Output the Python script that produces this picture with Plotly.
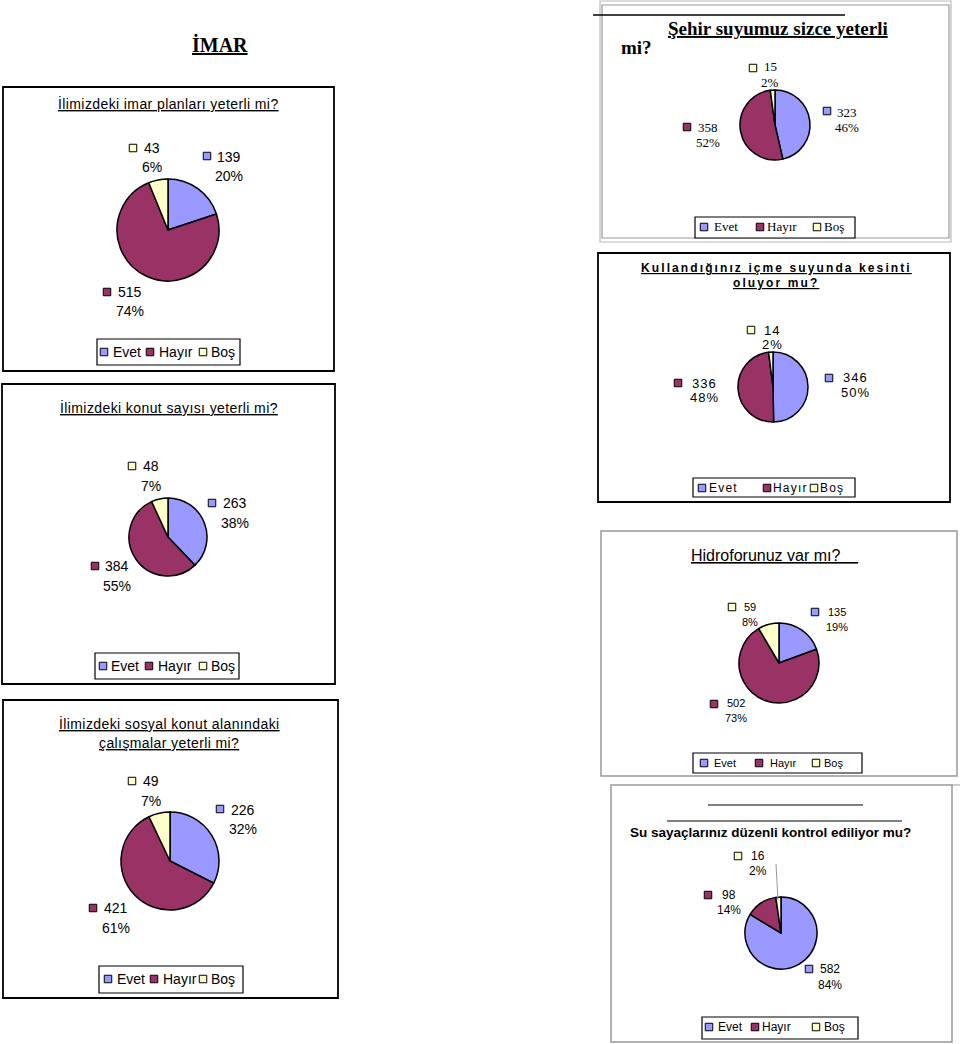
import plotly.graph_objects as go

W, H = 960, 1044

# ---------------- data ----------------
categories = ["Evet", "Hayır", "Boş"]

imar_values = [139, 515, 43]
imar_pct = ["20%", "74%", "6%"]

konut_values = [263, 384, 48]
konut_pct = ["38%", "55%", "7%"]

sosyal_values = [226, 421, 49]
sosyal_pct = ["32%", "61%", "7%"]

su_values = [323, 358, 15]
su_pct = ["46%", "52%", "2%"]

kesinti_values = [346, 336, 14]
kesinti_pct = ["50%", "48%", "2%"]

hidrofor_values = [135, 502, 59]
hidrofor_pct = ["19%", "73%", "8%"]

sayac_values = [582, 98, 16]
sayac_pct = ["84%", "14%", "2%"]

# ---------------- styles ----------------
colors = ["#9999FF", "#993366", "#FFFFCC"]
SANS = "Liberation Sans, Arial, sans-serif"
SERIF = "Liberation Serif, Times New Roman, serif"


def px(x):
    return x / W


def py(y):
    return 1 - y / H


shapes = []
annotations = []


def rect(x0, y0, x1, y1, color="black", width=1.5, fill="rgba(0,0,0,0)", layer="below"):
    shapes.append(dict(type="rect", xref="paper", yref="paper",
                       x0=px(x0), x1=px(x1), y0=py(y1), y1=py(y0),
                       line=dict(color=color, width=width), fillcolor=fill, layer=layer))


def line(x0, y0, x1, y1, color="black", width=1):
    shapes.append(dict(type="line", xref="paper", yref="paper",
                       x0=px(x0), x1=px(x1), y0=py(y0), y1=py(y1),
                       line=dict(color=color, width=width), layer="above"))


def text(x, y, s, font, xanchor="center"):
    annotations.append(dict(x=px(x), y=py(y), xref="paper", yref="paper", text=s,
                            showarrow=False, xanchor=xanchor, yanchor="middle",
                            font=font, borderpad=0))


def square(cx, cy, color, size=7.5):
    h = size / 2
    rect(cx - h, cy - h, cx + h, cy + h, color="black", width=1, fill=color, layer="above")


def spaced(s, sp):
    if not sp:
        return s
    return '<span style="letter-spacing:%spx">%s</span>' % (sp, s)


charts = [
    dict(name="imar", values=imar_values, pct=imar_pct,
         boxes=[((3, 87, 334, 371), "black", 1.8)],
         titles=[("İlimizdeki imar planları yeterli mi?", 168, 103)],
         title_font=dict(family=SANS, size=14, color="black"), title_sp=0.4, title_u=True,
         center=(168, 230), r=51,
         sq=[(207, 156), (107, 292), (133, 148)],
         txt=[(229, 157, 176), (130, 292, 311), (152, 148, 167)],
         label_font=dict(family=SANS, size=14, color="black"), label_sp=0,
         legend_box=(97, 339, 240, 365), legend_y=352,
         legend_sq=[104, 150, 203], legend_txt=[112, 158, 210],
         legend_font=dict(family=SANS, size=14, color="black"), legend_sp=0),
    dict(name="konut", values=konut_values, pct=konut_pct,
         boxes=[((2, 384, 335, 684), "black", 1.8)],
         titles=[("İlimizdeki konut sayısı yeterli mi?", 169, 407)],
         title_font=dict(family=SANS, size=14, color="black"), title_sp=0.4, title_u=True,
         center=(168, 537), r=39,
         sq=[(212, 503), (95, 566), (132, 466)],
         txt=[(235, 503, 523), (117, 566, 586), (151, 466, 486)],
         label_font=dict(family=SANS, size=14, color="black"), label_sp=0,
         legend_box=(95, 653, 239, 679), legend_y=666,
         legend_sq=[103, 149, 203], legend_txt=[110, 157, 210],
         legend_font=dict(family=SANS, size=14, color="black"), legend_sp=0),
    dict(name="sosyal", values=sosyal_values, pct=sosyal_pct,
         boxes=[((3, 700, 338, 998), "black", 1.8)],
         titles=[("İlimizdeki sosyal konut alanındaki", 169, 723),
                 ("çalışmalar yeterli mi?", 169, 743)],
         title_font=dict(family=SANS, size=14, color="black"), title_sp=0.4, title_u=True,
         center=(170, 861), r=49,
         sq=[(220, 809), (93, 908), (132, 781)],
         txt=[(243, 810, 829), (116, 908, 928), (151, 781, 801)],
         label_font=dict(family=SANS, size=14, color="black"), label_sp=0,
         legend_box=(99, 966, 243, 993), legend_y=979,
         legend_sq=[108, 154, 203], legend_txt=[116, 162, 210],
         legend_font=dict(family=SANS, size=14, color="black"), legend_sp=0),
    dict(name="su", values=su_values, pct=su_pct,
         boxes=[((600, 1, 951, 242), "#bbbbbb", 1.2), ((602, 5, 949, 238), "#999999", 1.2)],
         titles=[("Şehir suyumuz sizce yeterli", 778, 28)],
         title_font=dict(family=SERIF, size=19, color="black", weight="bold"), title_sp=0, title_u=True,
         center=(775, 125), r=35,
         sq=[(827, 111), (687, 127), (753, 68)],
         txt=[(847, 112, 127), (708, 127, 142), (770, 67, 82)],
         label_font=dict(family=SERIF, size=13, color="black"), label_sp=0,
         legend_box=(695, 217, 855, 238), legend_y=227,
         legend_sq=[704, 760, 817], legend_txt=[713, 766, 823],
         legend_font=dict(family=SERIF, size=13, color="black"), legend_sp=0),
    dict(name="kesinti", values=kesinti_values, pct=kesinti_pct,
         boxes=[((598, 253, 950, 502), "black", 1.8)],
         titles=[("Kullandığınız içme suyunda kesinti", 776, 268), ("oluyor mu?", 776, 283)],
         title_font=dict(family=SANS, size=12, color="black", weight="bold"), title_sp=2.1, title_u=True,
         center=(773, 387), r=35,
         sq=[(829, 378), (678, 383), (751, 330)],
         txt=[(855, 378, 393), (704, 383, 397), (772, 330, 344)],
         label_font=dict(family=SANS, size=13, color="black"), label_sp=1,
         legend_box=(693, 478, 855, 497), legend_y=488,
         legend_sq=[702, 767, 814], legend_txt=[708, 772, 819],
         legend_font=dict(family=SANS, size=12, color="black"), legend_sp=1.2),
    dict(name="hidrofor", values=hidrofor_values, pct=hidrofor_pct,
         boxes=[((601, 531, 957, 776), "#999999", 1.5)],
         titles=[],
         title_font=dict(family=SANS, size=16, color="black"), title_sp=0, title_u=True,
         center=(779, 663), r=40,
         sq=[(815, 612), (714, 704), (732, 607)],
         txt=[(837, 612, 627), (736, 703, 718), (750, 607, 622)],
         label_font=dict(family=SANS, size=11, color="black"), label_sp=0,
         legend_box=(693, 753, 862, 773), legend_y=763,
         legend_sq=[704, 759, 816], legend_txt=[713, 769, 823],
         legend_font=dict(family=SANS, size=11, color="black"), legend_sp=0),
    dict(name="sayac", values=sayac_values, pct=sayac_pct,
         boxes=[((611, 785, 952, 1042), "#999999", 1.5)],
         titles=[("Su sayaçlarınız düzenli kontrol ediliyor mu?", 770, 832)],
         title_font=dict(family=SANS, size=13.5, color="black", weight="bold"), title_sp=0, title_u=False,
         center=(781, 933), r=36,
         sq=[(809, 969), (708, 895), (738, 856)],
         txt=[(830, 969, 985), (729, 895, 910), (758, 856, 871)],
         label_font=dict(family=SANS, size=12, color="black"), label_sp=0,
         legend_box=(702, 1017, 858, 1039), legend_y=1027,
         legend_sq=[709, 755, 816], legend_txt=[717, 761, 823],
         legend_font=dict(family=SANS, size=12, color="black"), legend_sp=0),
]

fig = go.Figure()

# page heading
text(220, 44, "<u>İMAR</u>", dict(family=SERIF, size=20, color="black", weight="bold"))

for c in charts:
    for (b, col, wd) in c["boxes"]:
        rect(*b, color=col, width=wd)
    for (t, tx, ty) in c["titles"]:
        s = spaced(t, c["title_sp"])
        if c["title_u"]:
            s = "<u>" + s + "</u>"
        text(tx, ty, s, c["title_font"])

    cx, cy = c["center"]
    r = c["r"]
    fig.add_trace(go.Pie(
        values=c["values"], labels=categories, name=c["name"],
        sort=False, direction="clockwise", rotation=0,
        textinfo="none", hoverinfo="label+value+percent",
        marker=dict(colors=colors, line=dict(color="black", width=1.5)),
        domain=dict(x=[px(cx - r), px(cx + r)], y=[py(cy + r), py(cy - r)]),
        showlegend=False))

    for k in range(len(categories)):
        sx, sy = c["sq"][k]
        square(sx, sy, colors[k])
        tx, ty1, ty2 = c["txt"][k]
        text(tx, ty1, spaced(str(c["values"][k]), c["label_sp"]), c["label_font"])
        text(tx, ty2, spaced(c["pct"][k], c["label_sp"]), c["label_font"])

    rect(*c["legend_box"], color="black", width=1.2, fill="white")
    for k, cat in enumerate(categories):
        square(c["legend_sq"][k], c["legend_y"], colors[k])
        text(c["legend_txt"][k], c["legend_y"], spaced(cat, c["legend_sp"]), c["legend_font"], xanchor="left")

# extra decorations
line(593, 15, 845, 15, color="black", width=1.5)
text(636, 47, "mi?", dict(family=SERIF, size=19, color="black", weight="bold"))
text(690, 555, "<u>Hidroforunuz var mı?\u00a0\u00a0\u00a0\u00a0</u>",
     dict(family=SANS, size=16, color="black"), xanchor="left")
line(708, 805, 863, 805, color="black", width=1)
line(667, 821, 902, 821, color="black", width=1)
line(776, 864, 778, 900, color="#999999", width=1)
line(952, 785, 960, 785, color="#999999", width=1)

fig.update_layout(
    width=W, height=H,
    margin=dict(l=0, r=0, t=0, b=0),
    paper_bgcolor="white", plot_bgcolor="white",
    showlegend=False,
    shapes=shapes, annotations=annotations,
)

fig.write_html("out.html", config={"displayModeBar": False},
               post_script="document.body.style.margin='0';document.body.style.overflow='hidden';")
